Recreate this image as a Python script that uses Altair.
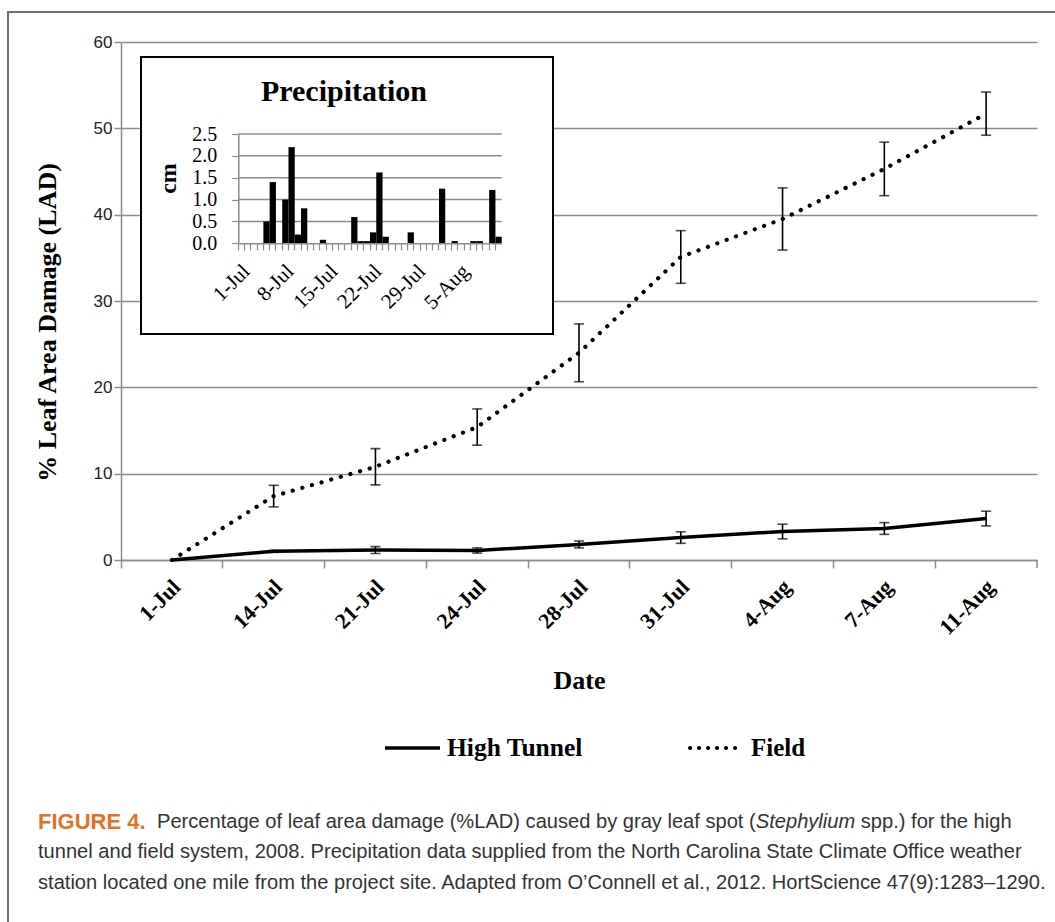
import altair as alt
import pandas as pd

# ---------------- data ----------------
dates = ["1-Jul", "14-Jul", "21-Jul", "24-Jul", "28-Jul", "31-Jul", "4-Aug", "7-Aug", "11-Aug"]
tunnel = [0.0, 1.0, 1.15, 1.1, 1.8, 2.6, 3.3, 3.65, 4.8]
tunnel_err = [0.0, 0.12, 0.4, 0.3, 0.4, 0.67, 0.85, 0.68, 0.85]
field = [0.0, 7.4, 10.8, 15.4, 24.0, 35.1, 39.5, 45.3, 51.7]
field_err = [0.0, 1.25, 2.1, 2.1, 3.35, 3.05, 3.6, 3.1, 2.5]
series_names = ["High Tunnel", "Field"]
y_ticks = [0, 10, 20, 30, 40, 50, 60]

precip_days = [
    "1-Jul", "2-Jul", "3-Jul", "4-Jul", "5-Jul", "6-Jul", "7-Jul", "8-Jul", "9-Jul", "10-Jul",
    "11-Jul", "12-Jul", "13-Jul", "14-Jul", "15-Jul", "16-Jul", "17-Jul", "18-Jul", "19-Jul", "20-Jul",
    "21-Jul", "22-Jul", "23-Jul", "24-Jul", "25-Jul", "26-Jul", "27-Jul", "28-Jul", "29-Jul", "30-Jul",
    "31-Jul", "1-Aug", "2-Aug", "3-Aug", "4-Aug", "5-Aug", "6-Aug", "7-Aug", "8-Aug", "9-Aug",
    "10-Aug", "11-Aug",
]
precip_cm = [
    0, 0, 0, 0, 0.5, 1.4, 0, 1.0, 2.2, 0.2,
    0.8, 0, 0, 0.08, 0, 0, 0, 0, 0.6, 0.05,
    0.05, 0.25, 1.62, 0.15, 0, 0, 0, 0.25, 0, 0,
    0, 0, 1.25, 0, 0.05, 0, 0, 0.05, 0.05, 0,
    1.22, 0.15,
]
precip_label_days = ["1-Jul", "8-Jul", "15-Jul", "22-Jul", "29-Jul", "5-Aug"]
precip_ticks = [0.0, 0.5, 1.0, 1.5, 2.0, 2.5]

caption_head = "FIGURE 4."
caption_1a = "Percentage of leaf area damage (%LAD) caused by gray leaf spot ("
caption_1b = "Stephylium"
caption_1c = "spp.) for the high"
caption_2 = "tunnel and field system, 2008. Precipitation data supplied from the North Carolina State Climate Office weather"
caption_3 = "station located one mile from the project site. Adapted from O\u2019Connell et al., 2012. HortScience 47(9):1283\u20131290."

# ---------------- styling ----------------
SERIF = "Liberation Serif, Times New Roman, serif"
SANS = "Liberation Sans, Arial, sans-serif"
GRID = "#8c8c8c"
W, H = 916, 518

main_df = pd.DataFrame({
    "date": dates,
    "tunnel": tunnel, "tunnel_err": tunnel_err,
    "field": field, "field_err": field_err,
})
main_df["t_lo"] = main_df["tunnel"] - main_df["tunnel_err"]
main_df["t_hi"] = main_df["tunnel"] + main_df["tunnel_err"]
main_df["f_lo"] = main_df["field"] - main_df["field_err"]
main_df["f_hi"] = main_df["field"] + main_df["field_err"]
err_df = main_df[main_df["field_err"] > 0]

x_main = alt.X(
    "date:N", sort=dates,
    scale=alt.Scale(type="band", domain=dates, paddingInner=0, paddingOuter=0),
    axis=alt.Axis(
        title="Date", titleFont=SERIF, titleFontSize=26, titleFontWeight="bold",
        titleX=458, titleY=120, titleBaseline="middle", titleAlign="center",
        labelAngle=315, labelAlign="right", labelBaseline="middle",
        labelFont=SERIF, labelFontSize=22, labelFontWeight="bold", labelColor="#000",
        labelPadding=15, labelOffset=4.8, bandPosition=0,
        tickSize=8, tickColor=GRID, tickWidth=1.5,
        domainColor=GRID, domainWidth=1.5,
    ),
)
y_main_scale = alt.Scale(domain=[0, 60], nice=False)
y_axis = alt.Axis(
    values=y_ticks, grid=True, gridColor=GRID, gridWidth=1.5,
    domainColor=GRID, domainWidth=1.5, tickColor=GRID, tickWidth=1.5, tickSize=7,
    labelFont=SANS, labelFontSize=17, labelColor="#222", labelPadding=2,
    title="% Leaf Area Damage (LAD)", titleFont=SERIF, titleFontSize=26, titleFontWeight="bold",
    titleAngle=270, titleX=-74, titleY=280, titleAlign="center", titleBaseline="middle",
)

base = alt.Chart(main_df)
tunnel_line = base.mark_line(color="black", strokeWidth=3.5).encode(
    x=x_main, y=alt.Y("tunnel:Q", scale=y_main_scale, axis=y_axis))
field_line = base.mark_line(color="black", strokeWidth=4.2, strokeDash=[0.1, 9.9], strokeCap="round").encode(
    x=x_main, y=alt.Y("field:Q", scale=y_main_scale))

eb = alt.Chart(err_df)
t_rule = eb.mark_rule(color="black", strokeWidth=1.6).encode(
    x=x_main, y=alt.Y("t_lo:Q", scale=y_main_scale), y2="t_hi:Q")
t_lo_tick = eb.mark_tick(color="black", thickness=1.6, size=10).encode(
    x=x_main, y=alt.Y("t_lo:Q", scale=y_main_scale))
t_hi_tick = eb.mark_tick(color="black", thickness=1.6, size=10).encode(
    x=x_main, y=alt.Y("t_hi:Q", scale=y_main_scale))
f_rule = eb.mark_rule(color="black", strokeWidth=1.6).encode(
    x=x_main, y=alt.Y("f_lo:Q", scale=y_main_scale), y2="f_hi:Q")
f_lo_tick = eb.mark_tick(color="black", thickness=1.6, size=10).encode(
    x=x_main, y=alt.Y("f_lo:Q", scale=y_main_scale))
f_hi_tick = eb.mark_tick(color="black", thickness=1.6, size=10).encode(
    x=x_main, y=alt.Y("f_hi:Q", scale=y_main_scale))

one = pd.DataFrame({"a": [0]})
end_tick = alt.Chart(one).mark_rule(color=GRID, strokeWidth=1.5).encode(
    x=alt.value(W), y=alt.value(H), y2=alt.value(H + 8))

main_layer = alt.layer(tunnel_line, field_line, t_rule, t_lo_tick, t_hi_tick,
                       f_rule, f_lo_tick, f_hi_tick)

# ---------------- inset ----------------
box = alt.Chart(one).mark_rect(fill="white", stroke="black", strokeWidth=2).encode(
    x=alt.value(20), x2=alt.value(432), y=alt.value(15), y2=alt.value(292))
inset_title = alt.Chart(one).mark_text(
    text="Precipitation", font=SERIF, fontSize=30, fontWeight="bold", align="center",
    baseline="middle", color="black").encode(x=alt.value(223), y=alt.value(50))

label_list = "[" + ",".join("'" + d + "'" for d in precip_label_days) + "]"
inset_df = pd.DataFrame({"day": precip_days, "cm": precip_cm})
x_inset = alt.X(
    "day:N", sort=precip_days,
    scale=alt.Scale(type="band", domain=precip_days, range=[117.3, 380.7], paddingInner=0, paddingOuter=0),
    axis=alt.Axis(
        orient="bottom", offset=-316.7, zindex=1, values=precip_days, bandPosition=0,
        labelExpr="indexof(" + label_list + ", datum.value) >= 0 ? datum.value : ''",
        labelAngle=315, labelAlign="right", labelBaseline="middle",
        labelFont=SERIF, labelFontSize=21, labelColor="#000", labelPadding=18, labelOffset=5.3,
        labelOverlap=False,
        tickSize=6.6, tickColor=GRID, tickWidth=1.2, domainColor=GRID, domainWidth=1.5, title=None,
    ),
)
y_inset_scale = alt.Scale(domain=[0, 2.5], range=[201.3, 92], nice=False)
y_inset_axis = alt.Axis(
    orient="left", offset=-117.3, zindex=1, values=precip_ticks, format=".1f", grid=False,
    labelFont=SERIF, labelFontSize=20, labelColor="#000", labelPadding=15,
    tickSize=6.6, tickColor=GRID, tickWidth=1.2, domainColor=GRID, domainWidth=1.5,
    title="cm", titleFont=SERIF, titleFontSize=24, titleFontWeight="bold",
    titleAngle=270, titleX=-70, titleY=136, titleAlign="center", titleBaseline="middle",
)
grid_df = pd.DataFrame({"cm": precip_ticks[1:]})
inset_grid = alt.Chart(grid_df).mark_rule(color=GRID, strokeWidth=1.5).encode(
    y=alt.Y("cm:Q", scale=y_inset_scale, axis=y_inset_axis),
    x=alt.value(117.3), x2=alt.value(380.7))
bars = alt.Chart(inset_df).mark_bar(color="black").encode(
    x=x_inset,
    y=alt.Y("cm:Q", scale=y_inset_scale, axis=y_inset_axis),
)
inset_layer = alt.layer(inset_grid, bars)

# ---------------- legend (manual) ----------------
leg_t_line = alt.Chart(one).mark_rule(color="black", strokeWidth=3.5).encode(
    x=alt.value(264), x2=alt.value(319), y=alt.value(706))
leg_t_text = alt.Chart(one).mark_text(
    text=series_names[0], font=SERIF, fontSize=25.5, fontWeight="bold", align="left",
    baseline="middle", color="black").encode(x=alt.value(326), y=alt.value(706))
leg_f_line = alt.Chart(one).mark_rule(color="black", strokeWidth=4, strokeDash=[0.1, 8.9],
                                      strokeCap="round").encode(
    x=alt.value(569), x2=alt.value(621), y=alt.value(706))
leg_f_text = alt.Chart(one).mark_text(
    text=series_names[1], font=SERIF, fontSize=25, fontWeight="bold", align="left",
    baseline="middle", color="black").encode(x=alt.value(630), y=alt.value(706))

# ---------------- caption ----------------
CAP_COLOR = "#333333"
cap_size = 20.1


def cap_text(txt, x, y, **kw):
    props = dict(text=txt, font=SANS, fontSize=cap_size, color=CAP_COLOR, align="left", baseline="middle")
    props.update(kw)
    return alt.Chart(one).mark_text(**props).encode(x=alt.value(x), y=alt.value(y))


cap1 = cap_text(caption_head, -83, 780, fontSize=22, fontWeight="bold", color="#e2702a")
cap1a = cap_text(caption_1a, 36, 780)
cap1b = cap_text(caption_1b, 634.8, 780, fontStyle="italic")
cap1c = cap_text(caption_1c, 739.8, 780)
cap2 = cap_text(caption_2, -83, 810)
cap3 = cap_text(caption_3, -83, 841)

frame = alt.Chart(one).mark_rect(fill=None, stroke="#6e6e6e", strokeWidth=2).encode(
    x=alt.value(-113), x2=alt.value(960), y=alt.value(-30), y2=alt.value(920))

chart = alt.layer(
    frame, main_layer, end_tick, box, inset_title, inset_layer,
    leg_t_line, leg_t_text, leg_f_line, leg_f_text,
    cap1, cap1a, cap1b, cap1c, cap2, cap3,
).resolve_scale(x="independent", y="independent").properties(
    width=W, height=H,
    autosize=alt.AutoSizeParams(type="none"),
    padding={"left": 121, "top": 42, "right": 18, "bottom": 362},
    background="white",
).configure_view(stroke=None)

chart.save("out.html", embed_options={"renderer": "svg", "actions": False})
